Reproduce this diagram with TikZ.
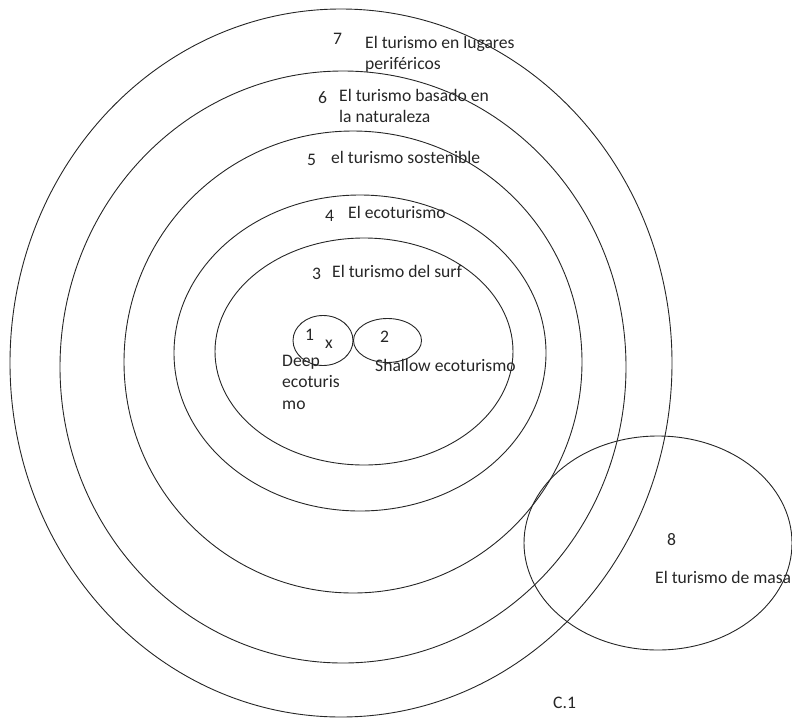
\documentclass[tikz,border=0pt]{standalone}
\usepackage{fontspec}
\setmainfont{Carlito}
\tikzset{
  ring/.style={line width=0.9pt, black!85},
  lbl/.style={anchor=base west, inner sep=0pt, align=left, text=black!85,
    font=\fontsize{17.6}{21.5}\selectfont}
}
\begin{document}
\begin{tikzpicture}[x=1pt, y=-1pt]
        \useasboundingbox (0, 0) rectangle (792, 718);
        \draw[ring] (341, 363) ellipse (331 and 354);
        \draw[ring] (343, 367) ellipse (283 and 296);
        \draw[ring] (353, 362) ellipse (229 and 231);
        \draw[ring] (360, 353) ellipse (186 and 158);
        \draw[ring] (364, 351.5) ellipse (149 and 113.5);
        \draw[ring] (323, 340.5) ellipse (30 and 25);
        \draw[ring] (387.5, 340.5) ellipse (34 and 22);
        \draw[ring] (658, 543) ellipse (134 and 107);
        % multi-line labels: base is the last line
        \node[lbl] (num7) at (333, 44) {7};
        \node[lbl] (txt7) at (365, 69.5) {El turismo en lugares\\periféricos};
        \node[lbl] (num6) at (318, 103) {6};
        \node[lbl] (txt6) at (339, 122.5) {El turismo basado en\\la naturaleza};
        \node[lbl] (num5) at (307, 165) {5};
        \node[lbl] (txt5) at (331, 163) {el turismo sostenible};
        \node[lbl] (num4) at (325, 221) {4};
        \node[lbl] (txt4) at (348, 218) {El ecoturismo};
        \node[lbl] (num3) at (312, 279) {3};
        \node[lbl] (txt3) at (332, 277) {El turismo del surf};
        \node[lbl] (num1) at (305, 340) {1};
        \node[lbl] (mark1) at (325, 348) {x};
        \node[lbl] (num2) at (380, 342) {2};
        \node[lbl] (txt1) at (282, 409) {Deep\\ecoturis\\mo};
        \node[lbl] (txt2) at (375, 371) {Shallow ecoturismo};
        \node[lbl] (num8) at (667, 545) {8};
        \node[lbl] (txt8) at (655, 583) {El turismo de masa};
        \node[lbl] (fig) at (553, 708) {C.1};
\end{tikzpicture}
\end{document}
